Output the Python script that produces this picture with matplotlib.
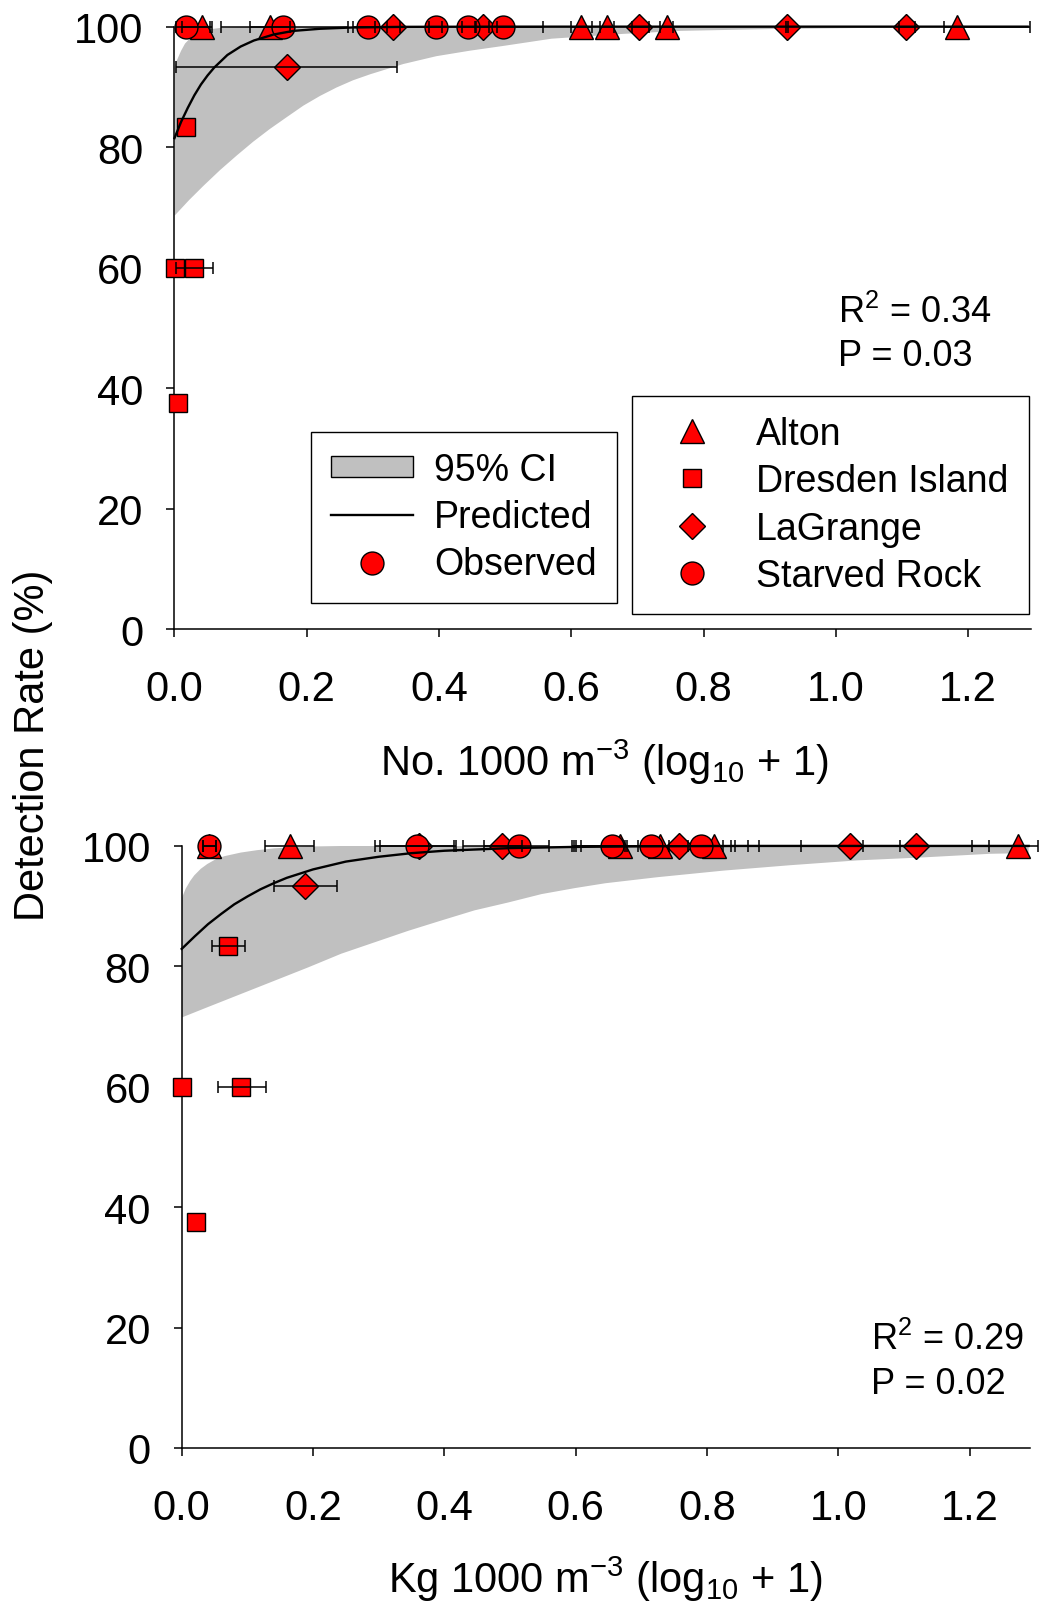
import numpy as np
import matplotlib
matplotlib.use('Agg')
import matplotlib.pyplot as plt
from matplotlib.lines import Line2D
from matplotlib.patches import Patch
from matplotlib.ticker import FormatStrFormatter, MultipleLocator

plt.rcParams.update({
    'font.family': ['Liberation Sans', 'DejaVu Sans'],
    'mathtext.fontset': 'custom',
    'mathtext.rm': 'Liberation Sans',
    'mathtext.it': 'Liberation Sans:italic',
    'mathtext.bf': 'Liberation Sans:bold',
    'font.size': 30,
    'axes.linewidth': 1.1,
    'legend.fancybox': False,
})

RED = '#ff0000'
GREY = '#c0c0c0'

# ---------------- top panel: density (No. 1000 m^-3) ----------------
no_alton_x = [0.041, 0.144, 0.615, 0.654, 0.744, 1.183]
no_alton_y = [100, 100, 100, 100, 100, 100]
no_alton_lo = [0.030, 0.030, 0.016, 0.010, 0.010, 0.020]
no_alton_hi = [0.015, 0.030, 0.016, 0.010, 0.010, 0.110]

no_dresden_x = [0.017, 0.001, 0.030, 0.005]
no_dresden_y = [83.3, 60, 60, 37.5]
no_dresden_lo = [0.0, 0.0, 0.028, 0.0]
no_dresden_hi = [0.0, 0.0, 0.028, 0.0]

no_lagrange_x = [0.170, 0.331, 0.466, 0.702, 0.926, 1.106]
no_lagrange_y = [93.3, 100, 100, 100, 100, 100]
no_lagrange_lo = [0.167, 0.010, 0.010, 0.010, 0.002, 0.010]
no_lagrange_hi = [0.167, 0.010, 0.010, 0.016, 0.002, 0.014]

no_starved_x = [0.018, 0.164, 0.293, 0.395, 0.444, 0.497]
no_starved_y = [100, 100, 100, 100, 100, 100]
no_starved_lo = [0.015, 0.094, 0.023, 0.010, 0.010, 0.010]
no_starved_hi = [0.036, 0.098, 0.010, 0.010, 0.010, 0.060]

no_pred_x = [0, 0.01, 0.02, 0.03, 0.04, 0.05, 0.06, 0.08, 0.10, 0.12, 0.15,
             0.18, 0.22, 0.27, 0.35, 0.5, 1.29]
no_pred_y = [81.5, 84.2, 86.5, 88.6, 90.4, 91.9, 93.2, 95.3, 96.7, 97.7, 98.7,
             99.3, 99.65, 99.87, 99.97, 100, 100]
no_ci_up_x = [0, 0.004, 0.010, 0.016, 0.023, 0.030, 0.038, 0.046, 0.056, 0.07,
              0.09, 0.12, 1.29]
no_ci_up_y = [93.3, 94.5, 96.0, 97.2, 98.0, 98.6, 99.0, 99.35, 99.6, 99.8,
              99.9, 100, 100]
no_ci_lo_x = [0, 0.022, 0.044, 0.069, 0.094, 0.119, 0.144, 0.170, 0.195, 0.220,
              0.245, 0.270, 0.296, 0.346, 0.396, 0.446, 0.497, 0.57, 0.678,
              0.765, 0.9, 1.05, 1.29]
no_ci_lo_y = [68.6, 71.2, 73.6, 76.2, 78.6, 80.9, 83.0, 85.0, 86.9, 88.5,
              89.9, 91.1, 92.1, 93.8, 95.1, 96.0, 96.8, 98.0, 98.8,
              99.3, 99.6, 99.8, 99.95]

# ---------------- bottom panel: biomass (Kg 1000 m^-3) ----------------
kg_alton_x = [0.042, 0.165, 0.668, 0.729, 0.811, 1.274]
kg_alton_y = [100, 100, 100, 100, 100, 100]
kg_alton_lo = [0.010, 0.038, 0.070, 0.134, 0.069, 0.044]
kg_alton_hi = [0.010, 0.037, 0.010, 0.108, 0.069, 0.030]

kg_dresden_x = [0.071, 0.001, 0.091, 0.021]
kg_dresden_y = [83.4, 60, 60, 37.5]
kg_dresden_lo = [0.025, 0.0, 0.036, 0.0]
kg_dresden_hi = [0.025, 0.0, 0.037, 0.0]

kg_lagrange_x = [0.188, 0.362, 0.488, 0.757, 1.018, 1.119]
kg_lagrange_y = [93.4, 100, 100, 100, 100, 100]
kg_lagrange_lo = [0.048, 0.060, 0.059, 0.157, 0.075, 0.025]
kg_lagrange_hi = [0.048, 0.055, 0.030, 0.086, 0.019, 0.084]

kg_starved_x = [0.042, 0.358, 0.513, 0.655, 0.715, 0.791]
kg_starved_y = [100, 100, 100, 100, 100, 100]
kg_starved_lo = [0.010, 0.063, 0.053, 0.047, 0.020, 0.020]
kg_starved_hi = [0.010, 0.056, 0.046, 0.020, 0.147, 0.034]

kg_pred_x = [0, 0.02, 0.04, 0.06, 0.08, 0.10, 0.12, 0.14, 0.16, 0.2, 0.25,
             0.3, 0.35, 0.4, 0.5, 0.6, 0.7, 0.85, 1.29]
kg_pred_y = [82.9, 85.0, 87.0, 88.7, 90.3, 91.6, 92.8, 93.8, 94.7, 96.1, 97.4,
             98.2, 98.8, 99.2, 99.64, 99.84, 99.93, 100, 100]
kg_ci_up_x = [0, 0.006, 0.013, 0.019, 0.029, 0.039, 0.052, 0.065, 0.09, 0.115,
              0.141, 0.19, 0.25, 1.29]
kg_ci_up_y = [91.3, 92.9, 94.2, 95.1, 96.2, 97.0, 97.8, 98.3, 98.9, 99.3,
              99.6, 99.9, 100, 100]
kg_ci_lo_x = [0, 0.039, 0.090, 0.141, 0.192, 0.243, 0.294, 0.345, 0.395, 0.446,
              0.497, 0.548, 0.599, 0.645, 0.724, 0.825, 0.927, 1.029, 1.130,
              1.232, 1.29]
kg_ci_lo_y = [71.5, 73.2, 75.4, 77.6, 79.8, 82.1, 84.0, 85.9, 87.6, 89.3,
              90.6, 92.0, 93.0, 93.8, 94.8, 95.9, 96.8, 97.6, 98.1, 98.7, 98.8]

sites = ['Alton', 'Dresden Island', 'LaGrange', 'Starved Rock']
site_markers = {'Alton': ('^', 17), 'Dresden Island': ('s', 13.5),
                'LaGrange': ('D', 13), 'Starved Rock': ('o', 16.5)}


def draw_panel(ax, series, pred_x, pred_y, up_x, up_y, lo_x, lo_y, xmax):
    # 95% CI band
    ax.fill(np.r_[lo_x, up_x[::-1]], np.r_[lo_y, up_y[::-1]],
            color=GREY, lw=0, zorder=1)
    # observed points (circles last so they sit on top)
    for site, (x, y, lo, hi) in series:
        m, ms = site_markers[site]
        ax.plot(x, y, ls='none', marker=m, ms=ms, mfc=RED, mec='k',
                mew=1.0, zorder=3, clip_on=False)
    for site, (x, y, lo, hi) in series:
        x, y, lo, hi = map(np.asarray, (x, y, lo, hi))
        keep = (lo + hi) > 0
        if keep.any():
            eb = ax.errorbar(x[keep], y[keep], xerr=[lo[keep], hi[keep]],
                             fmt='none', ecolor='k', elinewidth=1.1,
                             capsize=4.3, capthick=1.1, zorder=4)
            for art in eb.get_children():
                art.set_clip_on(False)
    ax.plot(pred_x, pred_y, color='k', lw=1.7, zorder=4, clip_on=False)

    ax.set_xlim(0, xmax)
    ax.set_ylim(0, 100)
    ax.xaxis.set_major_locator(MultipleLocator(0.2))
    ax.xaxis.set_major_formatter(FormatStrFormatter('%.1f'))
    ax.set_xticks(np.arange(0, 1.21, 0.2))
    ax.set_yticks(np.arange(0, 101, 20))
    for s in ('top', 'right'):
        ax.spines[s].set_visible(False)
    ax.tick_params(axis='x', direction='out', length=5.8, width=1.1,
                   pad=23, labelsize=30)
    ax.tick_params(axis='y', direction='out', length=5.8, width=1.1,
                   pad=16.5, labelsize=30)


fig = plt.figure(figsize=(10.48, 16.08), dpi=100)
ax1 = fig.add_axes([0.1665, 0.6082, 0.8173, 0.3746])
ax2 = fig.add_axes([0.1734, 0.0989, 0.8094, 0.3744])

top_series = [
    ('Alton', (no_alton_x, no_alton_y, no_alton_lo, no_alton_hi)),
    ('Dresden Island', (no_dresden_x, no_dresden_y, no_dresden_lo, no_dresden_hi)),
    ('LaGrange', (no_lagrange_x, no_lagrange_y, no_lagrange_lo, no_lagrange_hi)),
    ('Starved Rock', (no_starved_x, no_starved_y, no_starved_lo, no_starved_hi)),
]
bottom_series = [
    ('Alton', (kg_alton_x, kg_alton_y, kg_alton_lo, kg_alton_hi)),
    ('Dresden Island', (kg_dresden_x, kg_dresden_y, kg_dresden_lo, kg_dresden_hi)),
    ('LaGrange', (kg_lagrange_x, kg_lagrange_y, kg_lagrange_lo, kg_lagrange_hi)),
    ('Starved Rock', (kg_starved_x, kg_starved_y, kg_starved_lo, kg_starved_hi)),
]

draw_panel(ax1, top_series, no_pred_x, no_pred_y, no_ci_up_x, no_ci_up_y,
           no_ci_lo_x, no_ci_lo_y, 1.295)
draw_panel(ax2, bottom_series, kg_pred_x, kg_pred_y, kg_ci_up_x, kg_ci_up_y,
           kg_ci_lo_x, kg_ci_lo_y, 1.292)

# legends (top panel)
leg_kw = dict(fontsize=27, frameon=True, framealpha=1, borderpad=0.54,
              labelspacing=0.3, borderaxespad=0, loc='upper left')
h1 = [Patch(facecolor=GREY, edgecolor='k', lw=1.0),
      Line2D([], [], color='k', lw=1.7),
      Line2D([], [], ls='none', marker='o', ms=16.5, mfc=RED, mec='k', mew=1.0)]
leg1 = ax1.legend(h1, ['95% CI', 'Predicted', 'Observed'],
                  bbox_to_anchor=(0.159, 0.3276), handleheight=0.47,
                  handlelength=2.2, handletextpad=0.55, **leg_kw)
leg1.get_frame().set_edgecolor('k')
leg1.get_frame().set_linewidth(1.0)
ax1.add_artist(leg1)

h2 = [Line2D([], [], ls='none', marker=site_markers[s][0],
             ms=site_markers[s][1], mfc=RED, mec='k', mew=1.0) for s in sites]
leg2 = ax1.legend(h2, sites, bbox_to_anchor=(0.534, 0.387),
                  handlelength=2.1, handletextpad=0.67, **leg_kw)
leg2.get_frame().set_edgecolor('k')
leg2.get_frame().set_linewidth(1.0)

# fit statistics
ax1.text(0.7744, 0.510, r'R$^2$ = 0.34', transform=ax1.transAxes,
         fontsize=26, va='baseline')
ax1.text(0.7744, 0.438, 'P = 0.03', transform=ax1.transAxes,
         fontsize=26, va='baseline')
ax2.text(0.813, 0.1636, r'R$^2$ = 0.29', transform=ax2.transAxes,
         fontsize=26, va='baseline')
ax2.text(0.813, 0.0905, 'P = 0.02', transform=ax2.transAxes,
         fontsize=26, va='baseline')

# axis labels
fig.text(0.5768, 0.5173, r'No. 1000 m$^{-3}$ (log$_{10}$ + 1)', fontsize=30,
         ha='center', va='baseline')
fig.text(0.578, 0.0096, r'Kg 1000 m$^{-3}$ (log$_{10}$ + 1)', fontsize=30,
         ha='center', va='baseline')
fig.text(0.0315, 0.5363, 'Detection Rate (%)', fontsize=30, rotation=90,
         ha='center', va='center')

fig.savefig('out.png', dpi=100, facecolor='white')
